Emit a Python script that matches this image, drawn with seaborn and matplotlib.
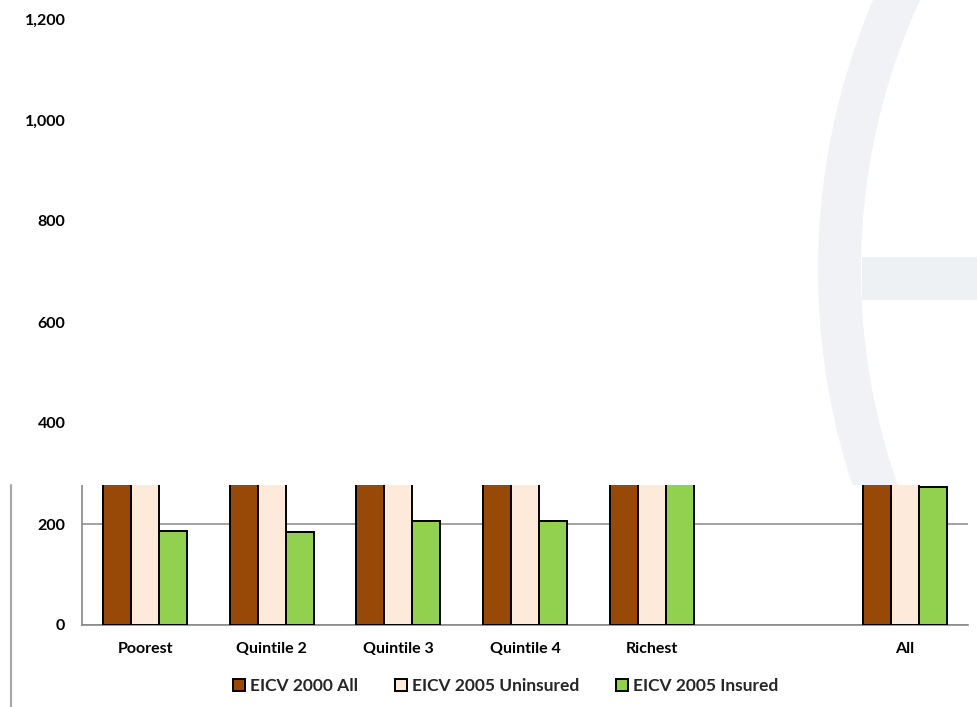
import matplotlib
matplotlib.use("Agg")
import matplotlib.pyplot as plt
import matplotlib.transforms as mtransforms
from matplotlib.patches import Rectangle, Wedge, Patch
from matplotlib.lines import Line2D
from matplotlib.ticker import FuncFormatter, MultipleLocator
import numpy as np
import pandas as pd
import seaborn as sns

# ---- data ----
categories = ["Poorest", "Quintile 2", "Quintile 3", "Quintile 4", "Richest", " ", "All"]
series = ["EICV 2000 All", "EICV 2005 Uninsured", "EICV 2005 Insured"]
eicv2000_all = [310, 330, 360, 420, 640, np.nan, 420]        # tops hidden in the reference
eicv2005_uninsured = [300, 320, 350, 400, 600, np.nan, 400]  # tops hidden in the reference
eicv2005_insured = [186, 184, 205, 205, 330, np.nan, 273]
colors = ["#984807", "#FDEADA", "#92D050"]

rows = []
for s, vals in zip(series, [eicv2000_all, eicv2005_uninsured, eicv2005_insured]):
    for c, v in zip(categories, vals):
        rows.append({"category": c, "series": s, "value": v})
df = pd.DataFrame(rows)

sns.set_theme(style="white")
plt.rcParams["font.family"] = ["Lato", "DejaVu Sans"]
plt.rcParams["font.weight"] = "bold"

W, H = 977, 707
fig = plt.figure(figsize=(W / 100, H / 100), dpi=100)
fig.patch.set_facecolor("white")
ax = fig.add_axes([82 / W, 1 - 625 / H, (968 - 82) / W, (625 - 19) / H])

sns.barplot(data=df, x="category", y="value", hue="series", order=categories,
            hue_order=series, palette=colors, saturation=1, width=0.664, gap=0,
            edgecolor="black", linewidth=1.4, errorbar=None, ax=ax,
            legend=False, zorder=3)

ax.set_xlim(-0.5, len(categories) - 0.5)
ax.set_ylim(0, 1200)
ax.yaxis.set_major_locator(MultipleLocator(200))
ax.yaxis.set_major_formatter(FuncFormatter(lambda v, p: f"{int(v):,}"))
ax.set_xlabel("")
ax.set_ylabel("")

gray = "#898989"
ax.grid(axis="y", color=gray, linewidth=1.1, zorder=0)
ax.set_axisbelow(True)
for side in ["top", "right"]:
    ax.spines[side].set_visible(False)
for side in ["left", "bottom"]:
    ax.spines[side].set_color(gray)
    ax.spines[side].set_linewidth(1.2)

ax.set_xticks(range(len(categories)))
ax.set_xticklabels(categories)
ax.set_xticks(np.arange(-0.5, len(categories), 1.0), minor=True)
ax.tick_params(axis="x", which="major", length=0, pad=12, labelsize=11.5)
ax.tick_params(axis="x", which="minor", length=5, width=1.2, color=gray, direction="out")
ax.tick_params(axis="y", length=5, width=1.2, color=gray, direction="out", pad=7, labelsize=11.5)
for lab in ax.get_xticklabels() + ax.get_yticklabels():
    lab.set_fontweight("bold")
    lab.set_color("black")

# ---- overlay image covering the upper part of the chart ----
ov_y = 277  # data value where the overlay starts
cover = Rectangle((-0.012, ov_y), 1.05, 2000, transform=ax.get_yaxis_transform(),
                  facecolor="white", edgecolor="none", zorder=5, clip_on=False)
ax.add_patch(cover)

pix = mtransforms.Affine2D().scale(1 / W, 1 / H) + fig.transFigure
clip_rect = Rectangle((0, H - 485), W, 485, transform=pix, facecolor="none", edgecolor="none")
ring = Wedge((1508, H - 270), 690, 90, 270, width=43, transform=pix,
             facecolor="#F0F2F5", edgecolor="none", zorder=6)
ring.set_clip_path(clip_rect)
fig.patches.append(ring)
bar = Rectangle((862, H - 300), W - 862, 43, transform=pix,
                facecolor="#EEF1F4", edgecolor="none", zorder=6)
fig.patches.append(bar)

# left border of the chart frame (visible only below the overlay)
fig.add_artist(Line2D([11, 11], [0, H - 485], transform=pix, color="#A6A6A6", linewidth=1.5))

# ---- legend ----
handles = [Patch(facecolor=c, edgecolor="black", linewidth=1.4, label=s)
           for c, s in zip(colors, series)]
leg = fig.legend(handles=handles, loc="center", bbox_to_anchor=(505.5 / W, 1 - 686 / H),
                 ncol=3, frameon=False, fontsize=12.5, handlelength=0.7,
                 handleheight=0.7, handletextpad=0.3, columnspacing=2.1)
for t in leg.get_texts():
    t.set_fontweight("bold")

fig.savefig("out.png", dpi=100, facecolor="white")
